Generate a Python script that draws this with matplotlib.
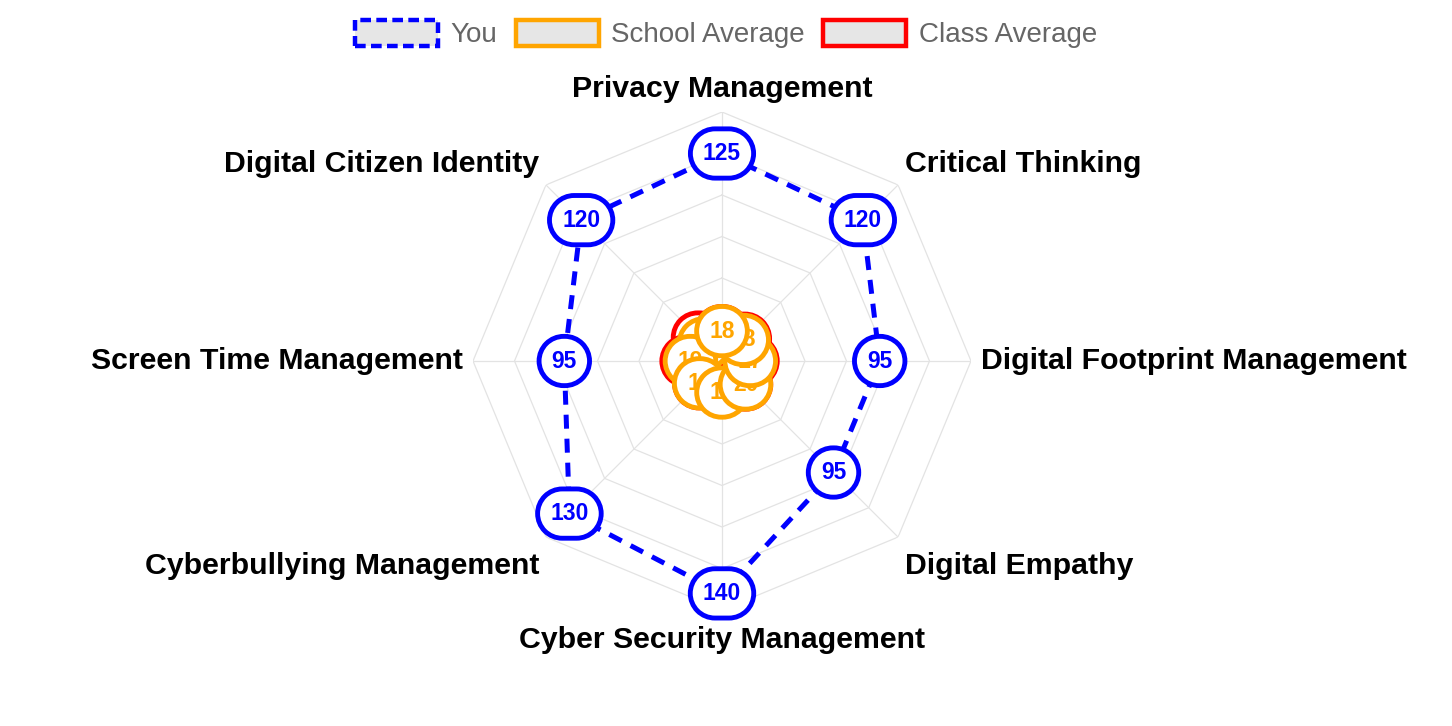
import numpy as np
import matplotlib.pyplot as plt
from matplotlib.patches import Patch
from matplotlib.path import Path

categories = [
    'Privacy Management', 'Critical Thinking', 'Digital Footprint Management',
    'Digital Empathy', 'Cyber Security Management', 'Cyberbullying Management',
    'Screen Time Management', 'Digital Citizen Identity',
]
you = [125, 120, 95, 95, 140, 130, 95, 120]
school_avg = [18, 18, 17, 20, 19, 19, 19, 15]
class_avg = [18, 19, 18, 20, 18, 19, 21, 20]

series = [
    ('You', you, 'blue'),
    ('School Average', school_avg, 'orange'),
    ('Class Average', class_avg, 'red'),
]

FONT = ['Liberation Sans', 'DejaVu Sans']
plt.rcParams['font.family'] = FONT


def pill(x0, y0, width, height, mutation_size):
    # stadium shaped label box, a circle for short labels
    h = 2.15 * mutation_size
    w = max(width + 1.1 * mutation_size, h)
    xc, yc = x0 + width / 2, y0 + height / 2
    r = h / 2
    right = Path.arc(-90, 90)
    left = Path.arc(90, 270)
    v1 = right.vertices * r + [xc + w / 2 - r, yc]
    v2 = left.vertices * r + [xc - w / 2 + r, yc]
    verts = np.vstack([v1, v2, v1[:1]])
    codes = np.concatenate([right.codes, left.codes, [Path.CLOSEPOLY]])
    codes[len(right.codes)] = Path.LINETO
    return Path(verts, codes)


W, H = 1452, 726
fig = plt.figure(figsize=(W / 100, H / 100), dpi=100)
cx, cy, rad = 722, 361, 249
ax = fig.add_axes([(cx - rad) / W, (H - cy - rad) / H, 2 * rad / W, 2 * rad / H],
                  projection='polar')
ax.set_theta_zero_location('N')
ax.set_theta_direction(-1)
ax.set_ylim(0, 150)
ax.axis('off')

n = len(categories)
theta = np.linspace(0, 2 * np.pi, n, endpoint=False)
closed = np.append(theta, theta[0])

# polygon grid
grid_c = '#e3e3e3'
for r in [25, 50, 75, 100, 125, 150]:
    ax.plot(closed, [r] * (n + 1), color=grid_c, lw=0.9, zorder=1)
for t in theta:
    ax.plot([t, t], [0, 150], color=grid_c, lw=0.9, zorder=1)

# category labels, offset in pixels from the outer vertex
for t, name in zip(theta, categories):
    s, c = np.sin(t), np.cos(t)
    ha = 'center' if abs(s) < 0.01 else ('left' if s > 0 else 'right')
    dx = 0 if abs(s) < 0.01 else np.sign(s) * (10 if abs(c) < 0.01 else 7)
    if abs(c) < 0.01:
        va, dy = 'center', 0
    elif c > 0:
        va, dy = 'bottom', (9 if abs(s) < 0.01 else 7)
    else:
        va, dy = 'top', (-15.5 if abs(s) < 0.01 else -14.5)
    ax.annotate(name, xy=(t, 150), xytext=(dx, dy), textcoords='offset pixels',
                ha=ha, va=va, fontsize=21.8, fontweight='bold',
                color='black', zorder=2)

# lines, drawn last dataset first so "You" sits on top
for k, (name, vals, col) in reversed(list(enumerate(series))):
    base = 10 + (len(series) - k) * 20
    ls = (0, (2.8, 2.0)) if k == 0 else '-'
    ax.plot(closed, vals + vals[:1], color=col, lw=3.6, linestyle=ls,
            zorder=base, solid_capstyle='butt', dash_capstyle='butt')
    for i, (t, v) in enumerate(zip(theta, vals)):
        ax.text(t, v, str(v), ha='center', va='center', fontsize=16.5,
                fontweight='bold', color=col, zorder=base + 1 + (n - i) * 0.1,
                bbox=dict(boxstyle=pill, facecolor='white', edgecolor=col,
                          linewidth=3.5))

handles = [
    Patch(facecolor='#e6e6e6', edgecolor='blue', linestyle=(0, (2.4, 1.2)), linewidth=3.2),
    Patch(facecolor='#e6e6e6', edgecolor='orange', linewidth=3.2),
    Patch(facecolor='#e6e6e6', edgecolor='red', linewidth=3.2),
]
fig.legend(handles, [s[0] for s in series], loc='center', ncol=3,
           bbox_to_anchor=(0.5, 1 - 34 / H), frameon=False, fontsize=20,
           handlelength=3.0, handleheight=1.05, handletextpad=0.45,
           columnspacing=0.65, labelcolor='#666666')

fig.savefig('out.png', dpi=100, facecolor='white')
